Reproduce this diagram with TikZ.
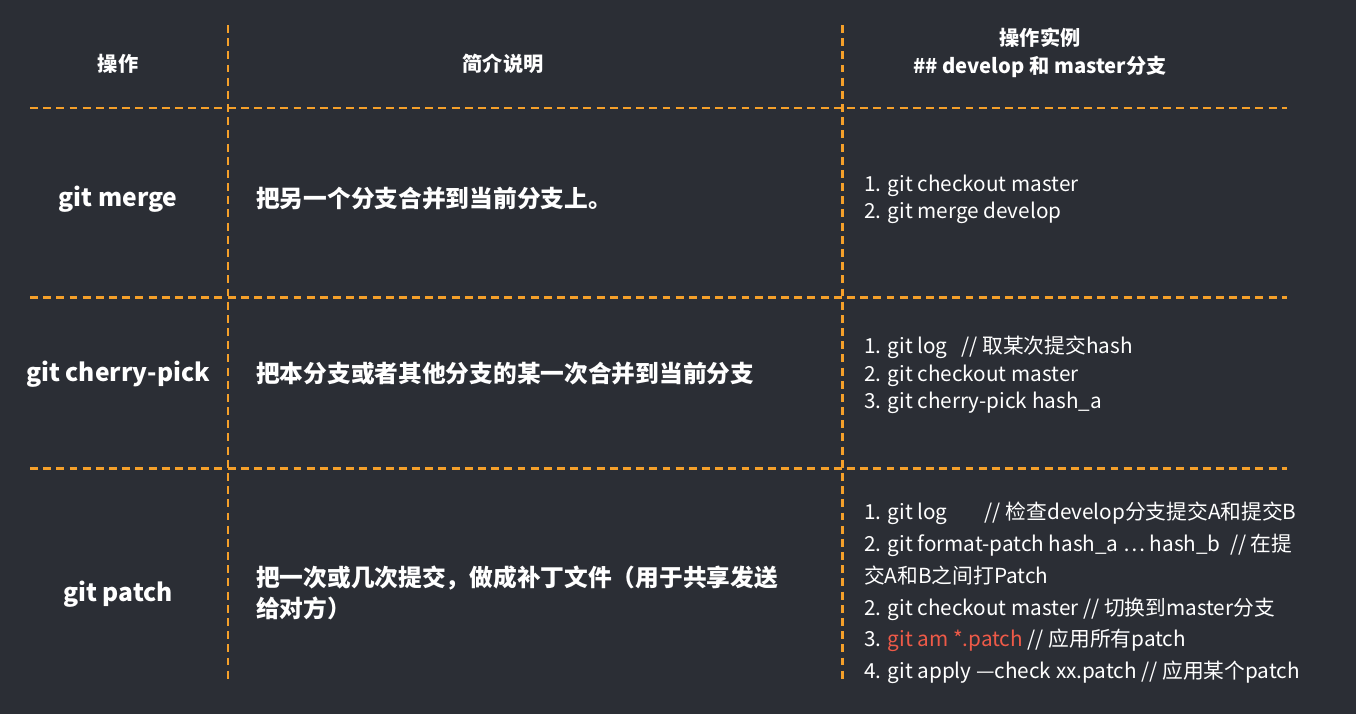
\documentclass[tikz,border=0pt]{standalone}
\usepackage{fontspec}
\setmainfont{Noto Sans CJK SC}
\definecolor{bgdark}{HTML}{2B2E35}
\definecolor{lineorange}{HTML}{F5A02A}
\definecolor{cmdred}{HTML}{EE5A48}
\begin{document}
\begin{tikzpicture}[x=0.02cm,y=-0.02cm,
    sep/.style={lineorange, line width=1.7pt, dash pattern=on 4.5pt off 3pt},
    head/.style={white, font=\fontsize{11.5}{16}\selectfont\bfseries, align=center},
    opname/.style={white, font=\fontsize{14}{18}\selectfont\bfseries},
    desc/.style={white, anchor=west, align=left, font=\fontsize{13.5}{18}\selectfont\bfseries},
    steps/.style={white, anchor=west, align=left, font=\fontsize{11.8}{16}\selectfont}]

    % Background
    \fill[bgdark] (0,0) rectangle (1356,714);

    % Grid lines
    \draw[sep] (228,25) -- (228,680);
    \draw[sep] (842,25) -- (842,680);
    \draw[sep] (30,108) -- (1287,108);
    \draw[sep] (30,297) -- (1287,297);
    \draw[sep] (30,468) -- (1287,468);

    % Header
    \node[head] (hop) at (118,64) {操作};
    \node[head] (hdesc) at (503,64) {简介说明};
    \node[head] (hex) at (1040,53) {操作实例\\\#\# develop 和 master分支};

    % git merge
    \node[opname] (merge) at (118,199) {git merge};
    \node[desc] (mergedesc) at (250,199) {把另一个分支合并到当前分支上。};
    \node[steps, font=\fontsize{11.8}{15.2}\selectfont] (mergeex) at (858,199)
        {1. git checkout master\\2. git merge develop};

    % git cherry-pick
    \node[opname] (pick) at (118,374) {git cherry-pick};
    \node[desc] (pickdesc) at (250,374) {把本分支或者其他分支的某一次合并到当前分支};
    \node[steps, font=\fontsize{11.8}{15.6}\selectfont] (pickex) at (858,375)
        {1. git log~~~// 取某次提交hash\\2. git checkout master\\3. git cherry-pick hash\_a};

    % git patch
    \node[opname] (patch) at (118,594) {git patch};
    \node[desc] (patchdesc) at (250,593) {把一次或几次提交，做成补丁文件（用于共享发送\\给对方）};
    \node[steps, font=\fontsize{11.8}{18.1}\selectfont] (patchex) at (858,593)
        {1. git log~~~~~~~~// 检查develop分支提交A和提交B\\
         2. git format-patch hash\_a … hash\_b~~// 在提\\
         交A和B之间打Patch\\
         2. git checkout master // 切换到master分支\\
         3. \textcolor{cmdred}{git am *.patch} // 应用所有patch\\
         4. git apply —check xx.patch // 应用某个patch};

\end{tikzpicture}
\end{document}
